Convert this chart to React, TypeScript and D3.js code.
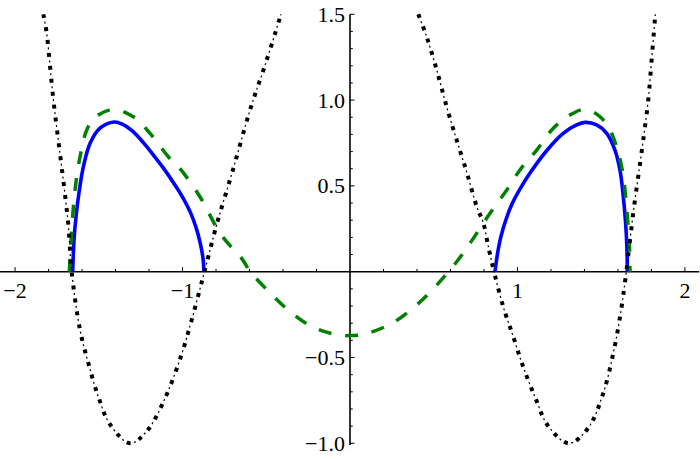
import React from "react";
import * as d3 from "d3";

// values, [x, y]
const blackLeft: [number, number][] = [
  [-1.831, 1.5], [-1.811, 1.389], [-1.791, 1.195], [-1.771, 1.0], [-1.747, 0.806],
  [-1.722, 0.612], [-1.698, 0.418], [-1.681, 0.262], [-1.662, 0], [-1.612, -0.34],
  [-1.562, -0.534], [-1.503, -0.728], [-1.433, -0.89], [-1.313, -1.0], [-1.214, -0.93],
  [-1.115, -0.76], [-1.015, -0.51], [-0.945, -0.28], [-0.869, 0], [-0.796, 0.275],
  [-0.697, 0.6], [-0.597, 0.942], [-0.497, 1.234], [-0.412, 1.5],
];
const blackRight: [number, number][] = [
  [0.408, 1.5], [0.458, 1.369], [0.518, 1.175], [0.577, 0.962], [0.637, 0.767],
  [0.697, 0.58], [0.757, 0.379], [0.796, 0.285], [0.826, 0.146], [0.86, 0],
  [0.915, -0.204], [0.975, -0.379], [1.034, -0.554], [1.104, -0.728], [1.184, -0.9],
  [1.308, -1.0], [1.423, -0.91], [1.512, -0.709], [1.572, -0.476], [1.616, -0.242],
  [1.65, 0], [1.691, 0.34], [1.721, 0.554], [1.751, 0.767], [1.781, 1.0],
  [1.801, 1.233], [1.823, 1.5],
];
const greenDashed: [number, number][] = [
  [-1.676, 0], [-1.662, 0.243], [-1.642, 0.476], [-1.612, 0.67], [-1.572, 0.826],
  [-1.522, 0.9], [-1.413, 0.946], [-1.294, 0.903], [-1.194, 0.806], [-1.085, 0.67],
  [-1.015, 0.6], [-0.896, 0.437], [-0.776, 0.224], [-0.697, 0.131], [-0.647, 0.078],
  [-0.595, 0], [-0.484, -0.117], [-0.362, -0.229], [-0.225, -0.321], [-0.07, -0.369],
  [0, -0.372], [0.09, -0.363], [0.249, -0.301], [0.398, -0.194], [0.518, -0.078],
  [0.637, 0.058], [0.716, 0.165], [0.836, 0.34], [0.936, 0.476], [1.015, 0.593],
  [1.115, 0.709], [1.214, 0.836], [1.313, 0.913], [1.403, 0.946], [1.493, 0.903],
  [1.552, 0.826], [1.592, 0.728], [1.622, 0.612], [1.642, 0.476], [1.656, 0.321],
  [1.668, 0.165], [1.672, 0],
];
const blueLeft: [number, number][] = [
  [-1.656, 0], [-1.648, 0.185], [-1.636, 0.321], [-1.616, 0.476], [-1.592, 0.612],
  [-1.552, 0.748], [-1.493, 0.836], [-1.408, 0.872], [-1.36, 0.86], [-1.3, 0.82],
  [-1.234, 0.752], [-1.174, 0.68], [-1.115, 0.605], [-1.055, 0.52], [-1.0, 0.435],
  [-0.955, 0.35], [-0.92, 0.26], [-0.895, 0.17], [-0.878, 0.08], [-0.872, 0],
];
const blueRight: [number, number][] = [
  [0.866, 0], [0.88, 0.1], [0.9, 0.2], [0.93, 0.3], [0.97, 0.4], [1.02, 0.49],
  [1.075, 0.575], [1.174, 0.705], [1.273, 0.806], [1.353, 0.855], [1.403, 0.87],
  [1.473, 0.855], [1.533, 0.806], [1.582, 0.709], [1.612, 0.593], [1.632, 0.437],
  [1.646, 0.282], [1.654, 0.126], [1.656, 0],
];

const xLabels = [-2, -1, 1, 2];
const yLabels = [-1.0, -0.5, 0.5, 1.0, 1.5];

const width = 700, height = 459;

const App = () => {
  const x = d3.scaleLinear().domain([-2.09, 2.09]).range([0, width]);
  const y = d3.scaleLinear().domain([-1, 1.5]).range([443.3, 14.3]);

  const line = d3.line<[number, number]>()
    .x(d => x(d[0]))
    .y(d => y(d[1]))
    .curve(d3.curveCatmullRom.alpha(0.5));

  const x0 = x(0), y0 = y(0);
  const xTicks = x.ticks(20).filter(t => Math.abs(t) > 1e-9);
  const yTicks = y.ticks(25).filter(t => Math.abs(t) > 1e-9);
  const isMajorX = (t: number) => Math.abs(t - Math.round(t)) < 1e-9;
  const isMajorY = (t: number) => Math.abs(t * 2 - Math.round(t * 2)) < 1e-9;
  const fmt = (v: number) => (v < 0 ? "\u2212" : "") + Math.abs(v).toFixed(1);
  const fmtX = (v: number) => (v < 0 ? "\u2212" : "") + Math.abs(v);

  const font = "'Liberation Serif', 'Times New Roman', Times, serif";

  return (
    <div style={{ fontFamily: font }}>
      <svg width={width} height={height} style={{ position: "absolute", left: 0, top: 0, background: "#fff" }}>
        {/* axes */}
        <g stroke="#000" strokeWidth={1.6}>
          <line x1={x(-2.09)} x2={x(2.085)} y1={y0} y2={y0} />
          <line x1={x0} x2={x0} y1={y(-1.01)} y2={y(1.5)} />
        </g>
        <g stroke="#000" strokeWidth={1}>
          {xTicks.map(t => (
            <line key={"xt" + t} x1={x(t)} x2={x(t)} y1={y0} y2={y0 - (isMajorX(t) ? 4.5 : 2.8)} />
          ))}
          {yTicks.map(t => (
            <line key={"yt" + t} x1={x0} x2={x0 + (isMajorY(t) ? 4.5 : 2.8)} y1={y(t)} y2={y(t)} />
          ))}
        </g>
        <g fontFamily={font} fontSize={22} fill="#000" stroke="none">
          {xLabels.map(t => (
            <text key={"xl" + t} x={x(t)} y={y0 + 26} textAnchor="middle">{fmtX(t)}</text>
          ))}
          {yLabels.map(t => (
            <text key={"yl" + t} x={x0 - 5} y={y(t) + 7.5} textAnchor="end">{fmt(t)}</text>
          ))}
        </g>

        {/* curves */}
        <g fill="none">
          <path d={line(blueLeft) ?? ""} stroke="#0000ff" strokeWidth={3.6} />
          <path d={line(blueRight) ?? ""} stroke="#0000ff" strokeWidth={3.6} />
          <path d={line(greenDashed) ?? ""} stroke="#008000" strokeWidth={3.5} strokeDasharray="13 14" />
          {[blackLeft, blackRight].map((seg, i) => (
            <g key={"blk" + i}>
              <path d={line(seg) ?? ""} stroke="#000" strokeWidth={4} strokeDasharray="4 9" />
              <path d={line(seg) ?? ""} stroke="#000" strokeWidth={1.2} strokeDasharray="2 11" strokeDashoffset={-7.5} />
            </g>
          ))}
        </g>
      </svg>
    </div>
  );
};

export default App;
